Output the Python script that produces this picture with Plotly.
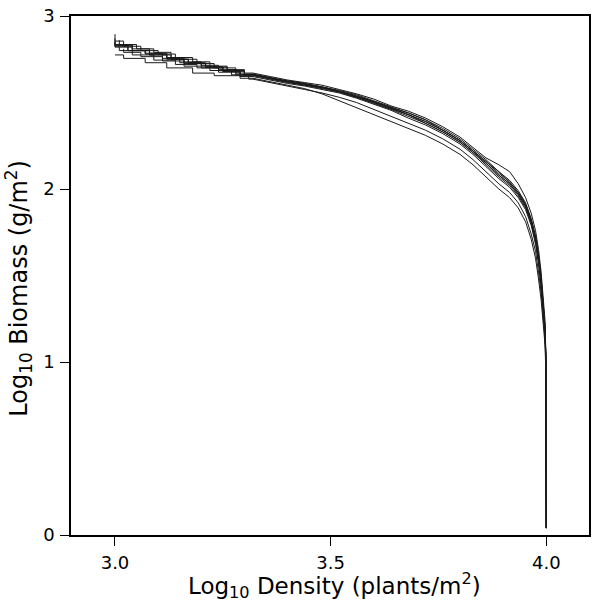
import plotly.graph_objects as go

# Shared log10 density grid for the smooth (self-thinning) part of every run
X_MAIN = [4.000, 4.000, 3.999, 3.997, 3.993, 3.988, 3.982, 3.975, 3.965, 3.952,
          3.935, 3.915, 3.890, 3.860, 3.830, 3.800, 3.760, 3.720, 3.680, 3.640,
          3.600, 3.560, 3.520, 3.480, 3.440, 3.400, 3.360, 3.320]

# log10 biomass of each simulated run on X_MAIN
Y_A = [0.04, 0.80, 1.00, 1.18, 1.32, 1.45, 1.58, 1.70, 1.80, 1.89, 1.96, 2.02, 2.07, 2.14,
       2.21, 2.27, 2.33, 2.38, 2.42, 2.46, 2.495, 2.53, 2.56, 2.58, 2.60, 2.615, 2.635, 2.655]
Y_B = [0.05, 0.82, 1.03, 1.21, 1.36, 1.49, 1.62, 1.73, 1.83, 1.92, 1.99, 2.05, 2.10, 2.17,
       2.23, 2.29, 2.35, 2.40, 2.44, 2.475, 2.51, 2.545, 2.57, 2.59, 2.61, 2.625, 2.645, 2.665]
Y_C = [0.04, 0.84, 1.05, 1.24, 1.39, 1.52, 1.65, 1.76, 1.86, 1.95, 2.03, 2.10, 2.14, 2.18,
       2.24, 2.30, 2.36, 2.41, 2.45, 2.48, 2.52, 2.55, 2.575, 2.60, 2.615, 2.63, 2.65, 2.67]
Y_D = [0.04, 0.76, 0.94, 1.10, 1.23, 1.36, 1.48, 1.60, 1.71, 1.81, 1.89, 1.95, 2.00, 2.07,
       2.14, 2.20, 2.26, 2.31, 2.35, 2.39, 2.43, 2.47, 2.51, 2.55, 2.58, 2.60, 2.62, 2.64]
Y_E = [0.04, 0.78, 0.97, 1.14, 1.27, 1.40, 1.52, 1.64, 1.74, 1.84, 1.92, 1.98, 2.03, 2.10,
       2.17, 2.23, 2.29, 2.34, 2.38, 2.42, 2.46, 2.50, 2.53, 2.555, 2.575, 2.595, 2.615, 2.635]
Y_F = [0.04, 0.81, 1.01, 1.19, 1.33, 1.47, 1.60, 1.71, 1.81, 1.90, 1.97, 2.03, 2.08, 2.15,
       2.22, 2.28, 2.34, 2.39, 2.43, 2.465, 2.50, 2.535, 2.565, 2.585, 2.605, 2.62, 2.64, 2.66]
Y_G = [0.04, 0.79, 0.99, 1.17, 1.31, 1.44, 1.57, 1.68, 1.79, 1.88, 1.95, 2.01, 2.06, 2.13,
       2.20, 2.26, 2.32, 2.37, 2.41, 2.455, 2.49, 2.525, 2.555, 2.575, 2.595, 2.61, 2.63, 2.65]
Y_H = [0.04, 0.83, 1.02, 1.20, 1.35, 1.48, 1.61, 1.72, 1.82, 1.91, 1.98, 2.04, 2.09, 2.16,
       2.22, 2.28, 2.34, 2.40, 2.44, 2.47, 2.505, 2.54, 2.565, 2.59, 2.61, 2.625, 2.64, 2.66]
Y_I = [0.04, 0.80, 1.00, 1.19, 1.33, 1.46, 1.59, 1.71, 1.81, 1.90, 1.97, 2.03, 2.08, 2.15,
       2.21, 2.27, 2.33, 2.38, 2.43, 2.465, 2.50, 2.53, 2.56, 2.585, 2.60, 2.62, 2.64, 2.66]
Y_J = [0.04, 0.81, 1.02, 1.20, 1.34, 1.47, 1.60, 1.72, 1.82, 1.91, 1.98, 2.04, 2.10, 2.16,
       2.22, 2.28, 2.34, 2.39, 2.43, 2.47, 2.505, 2.535, 2.565, 2.59, 2.605, 2.62, 2.64, 2.66]

# Stepped tails at low density (individual deaths / growth)
TX_A = [3.29, 3.29, 3.25, 3.25, 3.21, 3.21, 3.17, 3.17, 3.12, 3.12, 3.08, 3.08, 3.04, 3.04, 3.00, 3.00]
TY_A = [2.655, 2.685, 2.685, 2.705, 2.705, 2.725, 2.725, 2.75, 2.75, 2.775, 2.775, 2.80, 2.80, 2.82, 2.82, 2.845]
TX_B = [3.30, 3.30, 3.26, 3.26, 3.22, 3.22, 3.18, 3.18, 3.13, 3.13, 3.09, 3.09, 3.05, 3.05, 3.01, 3.01]
TY_B = [2.665, 2.69, 2.69, 2.71, 2.71, 2.735, 2.735, 2.76, 2.76, 2.79, 2.79, 2.81, 2.81, 2.835, 2.835, 2.86]
TX_C = [3.28, 3.28, 3.23, 3.23, 3.19, 3.19, 3.14, 3.14, 3.10, 3.10, 3.06, 3.06, 3.02, 3.02, 3.00, 3.00]
TY_C = [2.67, 2.70, 2.70, 2.725, 2.725, 2.75, 2.75, 2.78, 2.78, 2.80, 2.80, 2.825, 2.825, 2.855, 2.855, 2.895]
TX_D = [3.29, 3.29, 3.23, 3.23, 3.18, 3.18, 3.12, 3.12, 3.07, 3.07, 3.02, 3.02, 3.00]
TY_D = [2.64, 2.655, 2.655, 2.67, 2.67, 2.70, 2.70, 2.73, 2.73, 2.755, 2.755, 2.775, 2.775]
TX_E = [3.31, 3.31, 3.27, 3.27, 3.22, 3.22, 3.16, 3.16, 3.11, 3.11, 3.06, 3.06, 3.02, 3.02]
TY_E = [2.635, 2.66, 2.66, 2.685, 2.685, 2.71, 2.71, 2.74, 2.74, 2.765, 2.765, 2.79, 2.79, 2.81]
TX_F = [3.30, 3.30, 3.25, 3.25, 3.20, 3.20, 3.15, 3.15, 3.11, 3.11, 3.07, 3.07, 3.03, 3.03, 3.00, 3.00]
TY_F = [2.66, 2.68, 2.68, 2.70, 2.70, 2.73, 2.73, 2.755, 2.755, 2.785, 2.785, 2.80, 2.80, 2.825, 2.825, 2.85]
TX_G = [3.29, 3.29, 3.24, 3.24, 3.19, 3.19, 3.14, 3.14, 3.09, 3.09, 3.04, 3.04, 3.01, 3.01]
TY_G = [2.65, 2.675, 2.675, 2.70, 2.70, 2.72, 2.72, 2.745, 2.745, 2.775, 2.775, 2.80, 2.80, 2.82]
TX_H = [3.28, 3.28, 3.24, 3.24, 3.20, 3.20, 3.16, 3.16, 3.12, 3.12, 3.08, 3.08, 3.04, 3.04, 3.00, 3.00]
TY_H = [2.66, 2.69, 2.69, 2.715, 2.715, 2.735, 2.735, 2.76, 2.76, 2.785, 2.785, 2.81, 2.81, 2.835, 2.835, 2.87]
TX_I = [3.29, 3.29, 3.25, 3.25, 3.21, 3.21, 3.16, 3.16, 3.12, 3.12, 3.07, 3.07, 3.03, 3.03, 3.00, 3.00]
TY_I = [2.66, 2.68, 2.68, 2.705, 2.705, 2.725, 2.725, 2.755, 2.755, 2.78, 2.78, 2.80, 2.80, 2.83, 2.83, 2.855]
TX_J = [3.30, 3.30, 3.26, 3.26, 3.21, 3.21, 3.17, 3.17, 3.13, 3.13, 3.08, 3.08, 3.04, 3.04, 3.01, 3.01]
TY_J = [2.66, 2.685, 2.685, 2.705, 2.705, 2.73, 2.73, 2.75, 2.75, 2.775, 2.775, 2.80, 2.80, 2.83, 2.83, 2.84]

RUNS = [(Y_A, TX_A, TY_A), (Y_B, TX_B, TY_B), (Y_C, TX_C, TY_C), (Y_D, TX_D, TY_D),
        (Y_E, TX_E, TY_E), (Y_F, TX_F, TY_F), (Y_G, TX_G, TY_G), (Y_H, TX_H, TY_H),
        (Y_I, TX_I, TY_I), (Y_J, TX_J, TY_J)]

X_TICKS = [3.0, 3.5, 4.0]
X_TICK_LABELS = ["3.0", "3.5", "4.0"]
Y_TICKS = [0, 1, 2, 3]
Y_TICK_LABELS = ["0", "1", "2", "3"]
X_TITLE = "Log<sub>10</sub> Density (plants/m<sup>2</sup>)"
Y_TITLE = "Log<sub>10</sub> Biomass (g/m<sup>2</sup>)"

FONT = "DejaVu Sans"

fig = go.Figure()
for ym, tx, ty in RUNS:
    fig.add_trace(go.Scatter(
        x=X_MAIN + tx, y=ym + ty, mode="lines",
        line=dict(color="#1a1a1a", width=1), showlegend=False, hoverinfo="skip"))

fig.update_layout(
    width=596, height=614,
    margin=dict(l=71, r=5, t=13, b=79),
    paper_bgcolor="white", plot_bgcolor="white",
    font=dict(family=FONT, color="black"),
    annotations=[
        dict(text=X_TITLE, xref="paper", yref="paper", x=0.508, y=-0.097,
             xanchor="center", yanchor="middle", showarrow=False,
             font=dict(size=23, family=FONT)),
        dict(text=Y_TITLE, xref="paper", yref="paper", x=-0.102, y=0.475,
             xanchor="center", yanchor="middle", showarrow=False, textangle=-90,
             font=dict(size=24, family=FONT)),
    ],
)
fig.update_xaxes(
    range=[2.898, 4.099], tickvals=X_TICKS, ticktext=X_TICK_LABELS,
    ticks="outside", ticklen=9, tickwidth=1, tickcolor="black",
    showline=True, linecolor="black", linewidth=1.5, mirror=True,
    showgrid=False, zeroline=False, ticklabelstandoff=2,
    tickfont=dict(size=18, family=FONT),
)
fig.update_yaxes(
    range=[0, 3], tickvals=Y_TICKS, ticktext=Y_TICK_LABELS,
    ticks="outside", ticklen=9, tickwidth=1, tickcolor="black",
    showline=True, linecolor="black", linewidth=1.5, mirror=True,
    showgrid=False, zeroline=False, ticklabelstandoff=2,
    tickfont=dict(size=18, family=FONT),
)

fig.write_html("out.html")
